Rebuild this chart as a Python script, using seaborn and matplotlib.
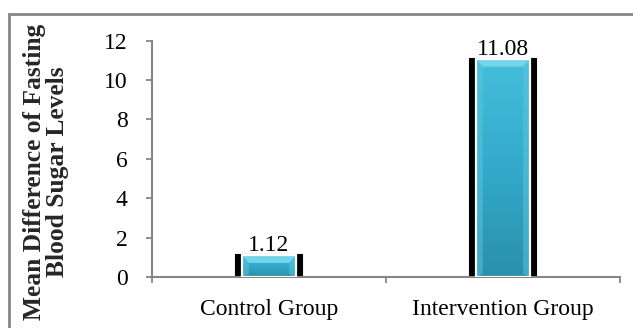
import numpy as np
import pandas as pd
import matplotlib
matplotlib.use("Agg")
import matplotlib.pyplot as plt
import matplotlib.patches as mpatches
from matplotlib.colors import LinearSegmentedColormap
from matplotlib.ticker import FixedLocator
import seaborn as sns

# Data
groups = ["Control Group", "Intervention Group"]
mean_diff = [1.12, 11.08]
value_labels = ["1.12", "11.08"]
y_ticks = [0, 2, 4, 6, 8, 10, 12]

df = pd.DataFrame({"group": groups, "diff": mean_diff})

sns.set_theme(style="white")
plt.rcParams["font.family"] = ["Liberation Serif", "DejaVu Serif"]

fig = plt.figure(figsize=(6.33, 3.28), dpi=100)
ax = fig.add_axes([0.240, 0.1555, 0.7395, 0.721])

gray = "#868686"
fs = 17

# dark backing behind each bar
sns.barplot(data=df, x="group", y="diff", order=groups, color="black",
            width=0.285, errorbar=None, ax=ax, zorder=2,
            edgecolor="black", linewidth=1.5)
# main bar face
sns.barplot(data=df, x="group", y="diff", order=groups, color="#35afcf",
            width=0.232, errorbar=None, ax=ax, zorder=3,
            edgecolor="white", linewidth=1.6)

ax.set_xlim(-0.5, 1.5)
ax.set_ylim(0, 12)

# shading on the bar faces: lighter at the top, deeper towards the base
shade = LinearSegmentedColormap.from_list("shade", ["#45bedb", "#33aacb", "#2a90aa"])
grad = np.linspace(0, 1, 256).reshape(-1, 1)
fig.canvas.draw()
to_px = ax.transData
to_data = ax.transData.inverted()
for bar in ax.patches[2:]:
    x0, w, h = bar.get_x(), bar.get_width(), bar.get_height()
    im = ax.imshow(grad, cmap=shade, extent=[x0, x0 + w, 0, h], aspect="auto",
                   zorder=3.1, origin="upper")
    im.set_clip_path(bar)
    # bevelled top facet
    (px0, py_top), (px1, _) = to_px.transform([(x0, h), (x0 + w, h)])
    inset = 7
    (ix0, iy), (ix1, _) = to_data.transform([(px0 + inset, py_top - 8), (px1 - inset, py_top - 8)])
    top = mpatches.Polygon([(x0, h), (x0 + w, h), (ix1, iy), (ix0, iy)],
                           closed=True, facecolor="#74d4ea", edgecolor="none", zorder=3.2)
    ax.add_patch(top)
    # side facets
    (_, by), = to_data.transform([(0, to_px.transform((0, 0))[1] + 3)])
    for xs in [(x0, ix0), (x0 + w, ix1)]:
        side = mpatches.Polygon([(xs[0], h), (xs[1], iy), (xs[1], by), (xs[0], 0)],
                                closed=True, facecolor="#5cc6e0", edgecolor="none",
                                alpha=0.5, zorder=3.15)
        ax.add_patch(side)
    bar.set_facecolor("none")
    bar.set_zorder(3.3)

# value labels, sitting on the bar tops
for i, (v, lab) in enumerate(zip(mean_diff, value_labels)):
    ax.text(i, v + 0.2, lab, ha="center", va="baseline", fontsize=fs,
            color="black", zorder=1)

# axes styling
for side in ["top", "right"]:
    ax.spines[side].set_visible(False)
for side in ["left", "bottom"]:
    ax.spines[side].set_color(gray)
    ax.spines[side].set_linewidth(1.5)

ax.set_yticks(y_ticks)
ax.set_yticklabels([str(t) for t in y_ticks])
ax.tick_params(axis="y", which="major", direction="out", length=4.5, width=1.3,
               color=gray, labelsize=fs, labelcolor="black", pad=13, left=True)
ax.set_xticks(range(len(groups)))
ax.set_xticklabels(groups)
ax.tick_params(axis="x", which="major", length=0, labelsize=fs,
               labelcolor="black", pad=16)
ax.xaxis.set_minor_locator(FixedLocator([-0.5, 0.5, 1.5]))
ax.tick_params(axis="x", which="minor", direction="out", length=4.5, width=1.3,
               color=gray, bottom=True)
ax.set_xlabel("")
ax.set_ylabel("")

fig.text(46 / 633, 1 - 172 / 328, "Mean Difference of Fasting\nBlood Sugar Levels",
         rotation=90, ha="center", va="center", fontsize=18.4, fontweight="bold",
         linespacing=1.0, multialignment="center")

# outer frame
frame = mpatches.Rectangle((9 / 633, -0.2), 1.2, 1.2 + (1 - 14 / 328) - 1,
                           transform=fig.transFigure, fill=False,
                           edgecolor=gray, linewidth=2, clip_on=False)
fig.patches.append(frame)

fig.savefig("out.png", dpi=100)
